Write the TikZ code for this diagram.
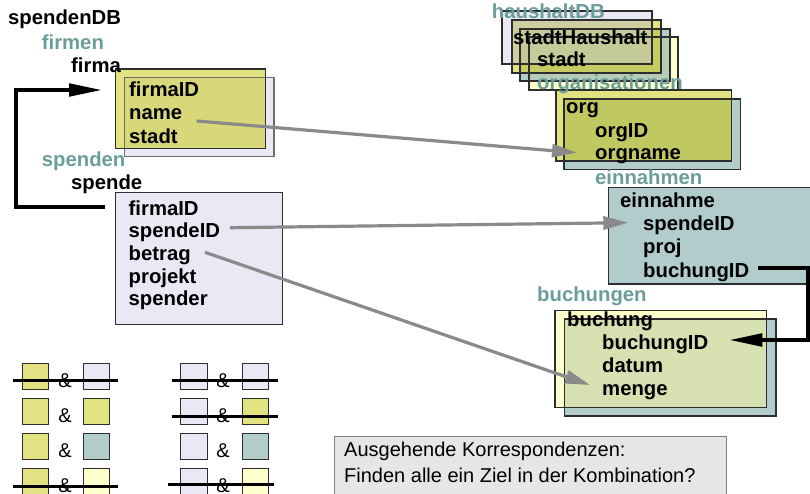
\documentclass[tikz,border=0pt]{standalone}
\usepackage{fontspec}
\setmainfont{Liberation Sans}
\usetikzlibrary{arrows.meta}

% table colours
\definecolor{cY}{RGB}{226,226,128}
\definecolor{cL}{RGB}{233,233,245}
\definecolor{cT}{RGB}{178,204,204}
\definecolor{cLY}{RGB}{255,255,204}
% colours where two tables overlap
\definecolor{cFirmaOv}{RGB}{216,216,122}
\definecolor{cOrgOv}{RGB}{192,200,98}
\definecolor{cBuchOv}{RGB}{214,224,176}
\definecolor{cTLY}{RGB}{182,204,182}
\definecolor{cYT}{RGB}{198,204,98}
\definecolor{cLYe}{RGB}{206,206,160}
\definecolor{cLYT}{RGB}{196,202,152}
% lines and text
\definecolor{tealtxt}{RGB}{107,158,155}
\definecolor{boxline}{RGB}{45,45,45}
\definecolor{arrowgray}{RGB}{138,138,138}
\definecolor{notefill}{RGB}{230,230,230}
\definecolor{noteline}{RGB}{128,128,128}

\tikzset{
  txt/.style={anchor=base west, inner sep=0pt, font=\fontsize{20.3}{24}\selectfont\bfseries},
  ttl/.style={txt, text=tealtxt},
  tbox/.style={draw=boxline, line width=1.1pt},
  gref/.style={draw=arrowgray, line width=3.2pt, -{Triangle[length=25pt,width=13pt]}},
  bref/.style={draw=black, line width=3.7pt, -{Triangle[length=33pt,width=12.5pt]}},
  sq/.style={draw=boxline, line width=1.2pt, minimum size=26.5pt, inner sep=0pt, anchor=north west},
  amp/.style={anchor=base, inner sep=0pt, font=\fontsize{20}{24}\selectfont},
  strike/.style={draw=black, line width=3pt},
  note/.style={anchor=base west, inner sep=0pt, font=\fontsize{20}{24}\selectfont}
}

\begin{document}
\begin{tikzpicture}[x=1pt,y=-1pt]
\clip (0,0) rectangle (810,494);

% ---------- spendenDB: firma ----------
\fill[cL] (124.3,77.7) rectangle (274,156.7);
\fill[cY] (115.7,69) rectangle (265.7,148.3);
\fill[cFirmaOv] (124.3,77.7) rectangle (265.7,148.3);
\draw[tbox, draw=boxline!70] (124.3,77.7) rectangle (274,156.7);
\draw[tbox] (115.7,69) rectangle (265.7,148.3);

% ---------- spendenDB: spende ----------
\fill[cL] (115.5,192.3) rectangle (282.7,324.3);
\draw[tbox] (115.5,192.3) rectangle (282.7,324.3);

% ---------- haushaltDB stack ----------
\fill[cLY] (529,37) rectangle (678,90);
\fill[cT] (520,29) rectangle (670,81);
\fill[cTLY] (529,37) rectangle (670,81);
\fill[cY] (512,20) rectangle (661,73);
\fill[cYT] (520,29) rectangle (661,73);
\fill[cL] (502,11) rectangle (652,64);
\fill[cLYe] (512,20) rectangle (652,64);
\fill[cLYT] (520,29) rectangle (652,64);
\draw[tbox] (529,37) rectangle (678,90);
\draw[tbox] (520,29) rectangle (670,81);
\draw[tbox] (512,20) rectangle (661,73);
\draw[tbox] (502,11) rectangle (652,64);

% ---------- organisationen: org ----------
\fill[cY] (556,90) rectangle (731.7,161);
\fill[cT] (564,99) rectangle (740.7,169.3);
\fill[cOrgOv] (564,99) rectangle (731.7,161);
\draw[tbox] (556,90) rectangle (731.7,161);
\draw[tbox] (564,99) rectangle (740.7,169.3);

% ---------- einnahmen: einnahme ----------
\fill[cT] (608.3,187.3) rectangle (816,284);
\draw[tbox] (608.3,187.3) rectangle (816,284);

% ---------- buchungen: buchung ----------
\fill[cT] (564.3,319) rectangle (776,416);
\fill[cLY] (555,310.7) rectangle (766.7,407.7);
\fill[cBuchOv] (564.3,319) rectangle (766.7,407.7);
\draw[tbox] (564.3,319) rectangle (776,416);
\draw[tbox] (555,310.7) rectangle (766.7,407.7);

% ---------- labels ----------
\node[txt] (spendenDB) at (8,25) {spendenDB};
\node[ttl] (firmen) at (41.7,49.3) {firmen};
\node[txt] (firma) at (71,72.7) {firma};
\node[txt] (fFirmaID) at (129,96.7) {firmaID};
\node[txt] (fName) at (129,120) {name};
\node[txt] (fStadt) at (129,143.3) {stadt};
\node[ttl] (spenden) at (41.7,166.7) {spenden};
\node[txt] (spende) at (71,190) {spende};
\node[txt] (sFirmaID) at (128.5,215) {firmaID};
\node[txt] (sSpendeID) at (128.5,237.7) {spendeID};
\node[txt] (sBetrag) at (128.5,260.3) {betrag};
\node[txt] (sProjekt) at (128.5,283.3) {projekt};
\node[txt] (sSpender) at (128.5,305.9) {spender};

\node[ttl] (haushaltDB) at (491.7,19) {haushaltDB};
\node[txt] (stadtHaushalt) at (513,44.5) {stadtHaushalt};
\node[txt] (hStadt) at (537,66.5) {stadt};
\node[ttl] (organisationen) at (537,89.5) {organisationen};
\node[txt] (org) at (566,114) {org};
\node[txt] (orgID) at (595,137.3) {orgID};
\node[txt] (orgname) at (595,160) {orgname};
\node[ttl] (einnahmen) at (595,184.3) {einnahmen};
\node[txt] (einnahme) at (620,207.3) {einnahme};
\node[txt] (eSpendeID) at (643,230.8) {spendeID};
\node[txt] (eProj) at (643,253.7) {proj};
\node[txt] (eBuchungID) at (643,277) {buchungID};
\node[ttl] (buchungen) at (537,301.7) {buchungen};
\node[txt] (buchung) at (567,326.7) {buchung};
\node[txt] (bBuchungID) at (602,349) {buchungID};
\node[txt] (bDatum) at (602,372.4) {datum};
\node[txt] (bMenge) at (602,395.3) {menge};

% ---------- connector end points ----------
\coordinate (pSpende) at (105,207);
\coordinate (pFirma) at (102,90);
\coordinate (pNameOut) at (196.7,121);
\coordinate (pOrgIn) at (577,152.7);
\coordinate (pSpIDOut) at (230,227.7);
\coordinate (pSpIDIn) at (628.3,222.7);
\coordinate (pBetragOut) at (205,252.3);
\coordinate (pMengeIn) at (590,385);
\coordinate (pBuchOut) at (758.3,268.3);
\coordinate (pBuchIn) at (729.3,340);

% ---------- references ----------
\draw[bref] (pSpende) -- (16,207) -- (16,90) -- (pFirma);
\draw[bref] (pBuchOut) -- (808.3,268.3) -- (808.3,340) -- (pBuchIn);
\draw[gref] (pNameOut) -- (pOrgIn);
\draw[gref] (pSpIDOut) -- (pSpIDIn);
\draw[gref] (pBetragOut) -- (pMengeIn);

% ---------- combination legend ----------
\foreach \r/\y/\a/\b/\c/\d in {1/362.7/cY/cL/cL/cL, 2/397.7/cY/cY/cL/cY, 3/432.7/cY/cT/cL/cT, 4/467.7/cY/cLY/cL/cLY}{
  \node[sq, fill=\a] (a\r l) at (21.7,\y) {};
  \node[amp] (a\r m) at (65,\y+24.5) {\&};
  \node[sq, fill=\b] (a\r r) at (82.7,\y) {};
  \node[sq, fill=\c] (b\r l) at (180,\y) {};
  \node[amp] (b\r m) at (223,\y+24.5) {\&};
  \node[sq, fill=\d] (b\r r) at (241.7,\y) {};
}
\draw[strike] ([shift={(-9,4)}]a1l.west) -- ([shift={(8,4)}]a1r.east);
\draw[strike] ([shift={(-8.3,4)}]b1l.west) -- ([shift={(8.4,4)}]b1r.east);
\draw[strike] ([shift={(-8.3,4.5)}]b2l.west) -- ([shift={(8.4,4.5)}]b2r.east);
\draw[strike] ([shift={(-9,4.7)}]a4l.west) -- ([shift={(8,4.7)}]a4r.east);
\draw[strike] ([shift={(-12,3.3)}]b4l.west) -- ([shift={(4.7,3.3)}]b4r.east);

% ---------- question box ----------
\draw[fill=notefill, draw=noteline, line width=1pt] (334,436.7) rectangle (726,510);
\node[note] (qA) at (344,456.7) {Ausgehende Korrespondenzen:};
\node[note] (qB) at (344,482.5) {Finden alle ein Ziel in der Kombination?};
\end{tikzpicture}
\end{document}
